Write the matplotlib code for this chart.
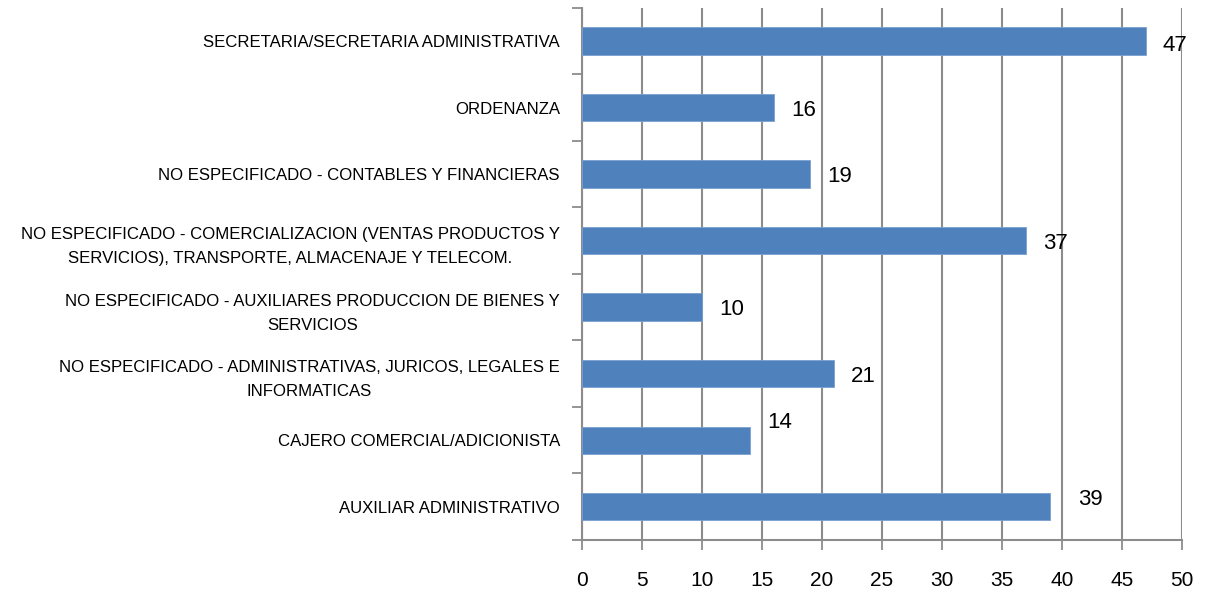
import matplotlib
matplotlib.use("Agg")
import matplotlib.pyplot as plt
import numpy as np

# categories from bottom to top
categories = [
    "AUXILIAR ADMINISTRATIVO",
    "CAJERO COMERCIAL/ADICIONISTA",
    "NO ESPECIFICADO - ADMINISTRATIVAS, JURICOS, LEGALES E\nINFORMATICAS",
    "NO ESPECIFICADO - AUXILIARES PRODUCCION DE BIENES Y\nSERVICIOS",
    "NO ESPECIFICADO - COMERCIALIZACION (VENTAS PRODUCTOS Y\nSERVICIOS), TRANSPORTE, ALMACENAJE Y TELECOM.",
    "NO ESPECIFICADO - CONTABLES Y FINANCIERAS",
    "ORDENANZA",
    "SECRETARIA/SECRETARIA ADMINISTRATIVA",
]
values = [39, 14, 21, 10, 37, 19, 16, 47]
x_ticks = [0, 5, 10, 15, 20, 25, 30, 35, 40, 45, 50]

# label offsets in points (Excel placed them a bit irregularly)
label_dx = [29, 21, 21, 21, 21, 21, 21, 21]
label_dy = [5, 13, -2, -2, -2, -2, -2, -3]

plt.rcParams["font.family"] = ["Liberation Sans", "DejaVu Sans"]
BLUE = "#4f81bd"
GRID = "#8c8c8c"

fig = plt.figure(figsize=(12.05, 5.96), dpi=100)
ax = fig.add_axes([0.483, 0.094, 0.498, 0.893])

y = np.arange(len(categories))
ax.barh(y, values, height=0.41, color=BLUE, edgecolor="#7aa0d0", lw=0.6, zorder=3)

for yi, v, dx, dy in zip(y, values, label_dx, label_dy):
    ax.annotate(str(v), (v, yi), xytext=(dx, dy), textcoords="offset points",
                ha="center", va="center", fontsize=16, color="black", zorder=4)

ax.set_xlim(0, 50)
ax.set_ylim(-0.5, len(categories) - 0.5)
ax.set_xticks(x_ticks)
ax.set_xticklabels([str(t) for t in x_ticks], fontsize=15)
ax.set_yticks(y)
ax.set_yticklabels(categories, fontsize=12.1, ha="right",
                   multialignment="center", linespacing=1.75)
ax.set_yticks(np.arange(-0.5, len(categories), 1), minor=True)

ax.xaxis.grid(True, color=GRID, lw=1.5, zorder=0)
ax.tick_params(axis="x", length=7, width=1.3, color=GRID, pad=15, direction="out")
ax.tick_params(axis="y", which="major", length=0, pad=16)
ax.tick_params(axis="y", which="minor", length=7, width=1.3, color=GRID, direction="out")

for s in ("top", "right"):
    ax.spines[s].set_visible(False)
for s in ("left", "bottom"):
    ax.spines[s].set_color(GRID)
    ax.spines[s].set_linewidth(1.5)

fig.savefig("out.png", dpi=100)
